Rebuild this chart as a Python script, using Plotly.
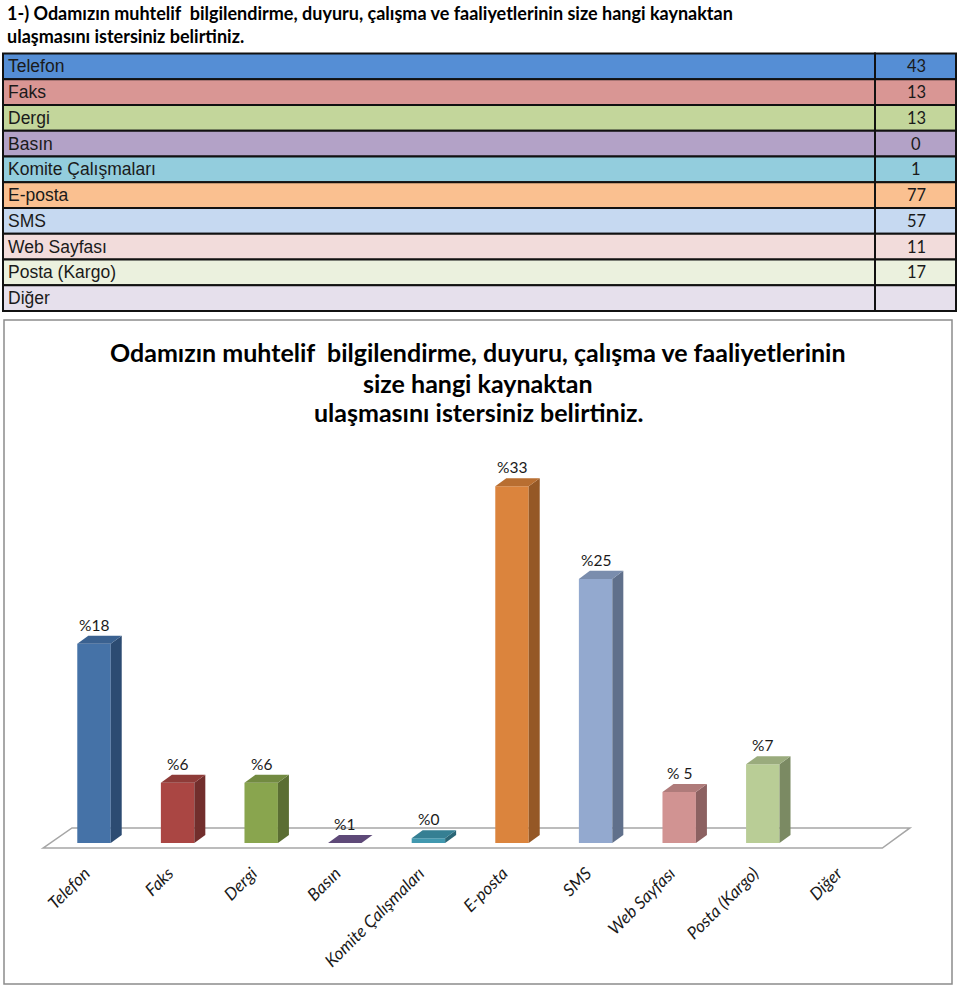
import plotly.graph_objects as go

W, H = 960, 986

# ---------------- data ----------------
categories = ["Telefon", "Faks", "Dergi", "Basın", "Komite Çalışmaları",
              "E-posta", "SMS", "Web Sayfası", "Posta (Kargo)", "Diğer"]
counts = [43, 13, 13, 0, 1, 77, 57, 11, 17, None]
pct_labels = ["%18", "%6", "%6", "%1", "%0", "%33", "%25", "% 5", "%7", ""]
chart_title_lines = ["Odamızın muhtelif  bilgilendirme, duyuru, çalışma ve faaliyetlerinin",
                     "size hangi kaynaktan",
                     "ulaşmasını istersiniz belirtiniz."]
page_title = ("1-) Odamızın muhtelif  bilgilendirme, duyuru, çalışma ve faaliyetlerinin size hangi kaynaktan<br>"
              "ulaşmasını istersiniz belirtiniz.")

# ---------------- styles ----------------
row_colors = ["#558ED5", "#D99694", "#C3D69B", "#B3A2C7", "#93CDDD",
              "#FAC090", "#C6D9F1", "#F2DCDB", "#EBF1DE", "#E6E0EC"]
front_colors = ["#4572A7", "#AA4643", "#89A54E", "#71588F", "#4198AF",
                "#DB843D", "#93A9CF", "#D19392", "#B9CD96", "#A47D7C"]
side_colors = ["#2C4B72", "#722E2C", "#5B6E33", "#4B3A60", "#2A6676",
               "#955826", "#60708B", "#8C6161", "#7B8A63", "#6E5352"]
top_colors = ["#3A6190", "#8E3B38", "#728A41", "#5E4978", "#357F93",
              "#B86E31", "#7A8DAD", "#AF7B7A", "#9AAB7D", "#896867"]

total = sum(c for c in counts if c is not None)
pct = [None if c is None else c / total * 100 for c in counts]

BAR_W = 0.4
DX = 0.1316   # depth offset in category units
DY = 0.75     # depth offset in % units

FONT_C = "Lato"

fig = go.Figure()

# bars: front faces
xs = list(range(len(categories)))
fig.add_trace(go.Bar(
    x=[x for x, p in zip(xs, pct) if p is not None],
    y=[p for p in pct if p is not None],
    width=BAR_W,
    marker=dict(color=[c for c, p in zip(front_colors, pct) if p is not None],
                line=dict(width=0)),
    hoverinfo="skip",
))

# 3D side and top faces computed from data
for i, p in enumerate(pct):
    if p is None:
        continue
    x0, x1 = i - BAR_W / 2, i + BAR_W / 2
    if p > 0:
        fig.add_trace(go.Scatter(
            x=[x1, x1 + DX, x1 + DX, x1, x1],
            y=[0, DY, p + DY, p, 0],
            mode="lines", fill="toself", fillcolor=side_colors[i],
            line=dict(width=0, color=side_colors[i]), hoverinfo="skip"))
    fig.add_trace(go.Scatter(
        x=[x0, x1, x1 + DX, x0 + DX, x0],
        y=[p, p, p + DY, p + DY, p],
        mode="lines", fill="toself", fillcolor=top_colors[i],
        line=dict(width=0, color=top_colors[i]), hoverinfo="skip"))
    if pct_labels[i]:
        fig.add_annotation(x=i, y=p + DY, xref="x", yref="y", text=pct_labels[i],
                           showarrow=False, yanchor="bottom", yshift=0,
                           font=dict(family=FONT_C, size=15.5, color="#1a1a1a"))

# floor
fig.add_shape(type="path", xref="x", yref="y", layer="below",
              path="M -0.61,-0.47 L -0.263,1.4 L 9.76,1.4 L 9.43,-0.47 Z",
              line=dict(color="#A6A6A6", width=1.5), fillcolor="white")

PX_PER_PCT = 10.75
BASE_PX = 843.0
Y_RANGE = [-1.5, 36]
y_lo_px = BASE_PX - Y_RANGE[0] * PX_PER_PCT
y_hi_px = BASE_PX - Y_RANGE[1] * PX_PER_PCT
x_dom = [10.4 / W, 930 / W]
fig.update_layout(
    width=W, height=H, margin=dict(l=0, r=0, t=0, b=0),
    paper_bgcolor="white", plot_bgcolor="rgba(0,0,0,0)",
    showlegend=False,
    xaxis=dict(domain=x_dom, range=[-1, 10], tickmode="array", tickvals=xs,
               ticktext=categories, tickangle=-45, showgrid=False, zeroline=False,
               showline=False, ticks="", ticklabelshift=-9,
               tickfont=dict(family=FONT_C, size=17, color="#1a1a1a", style="italic")),
    yaxis=dict(domain=[(H - y_lo_px) / H, (H - y_hi_px) / H], range=Y_RANGE,
               showgrid=False, zeroline=False, showticklabels=False, showline=False),
)

def px(x):
    return x / W

def py(y):
    return 1 - y / H

# chart border
fig.add_shape(type="rect", xref="paper", yref="paper", layer="below",
              x0=px(4), x1=px(952), y0=py(320), y1=py(984),
              line=dict(color="#8C8C8C", width=1.5))

# chart title
for line, yc in zip(chart_title_lines, (352, 383, 412)):
    fig.add_annotation(xref="paper", yref="paper", x=px(478), y=py(yc),
                       xanchor="center", yanchor="middle", showarrow=False,
                       text="<b>" + line + "</b>",
                       font=dict(family=FONT_C, size=25, color="#000000"))

# page title
fig.add_annotation(xref="paper", yref="paper", x=px(5), y=py(0),
                   xanchor="left", yanchor="top", showarrow=False, align="left",
                   text="<b>" + page_title + "</b>",
                   font=dict(family=FONT_C, size=18, color="#000000"))

# data table
T_TOP, ROW_H = 53.5, 25.75
T_L, T_MID, T_R = 3, 875, 956
for i, cat in enumerate(categories):
    y0 = T_TOP + i * ROW_H
    y1 = y0 + ROW_H
    for xa, xb in ((T_L, T_MID), (T_MID, T_R)):
        fig.add_shape(type="rect", xref="paper", yref="paper",
                      x0=px(xa), x1=px(xb), y0=py(y1), y1=py(y0),
                      fillcolor=row_colors[i], line=dict(color="#111111", width=2))
    fig.add_annotation(xref="paper", yref="paper", x=px(6), y=py((y0 + y1) / 2),
                       xanchor="left", yanchor="middle", showarrow=False, text=cat,
                       font=dict(family="Liberation Sans", size=17.5, color="#1a1a1a"))
    val = "" if counts[i] is None else str(counts[i])
    fig.add_annotation(xref="paper", yref="paper", x=px(916), y=py((y0 + y1) / 2),
                       xanchor="center", yanchor="middle", showarrow=False, text=val,
                       font=dict(family=FONT_C, size=16.5, color="#1a1a1a"))

fig.write_html("out.html", config={"displayModeBar": False},
               post_script="document.body.style.margin='0';document.documentElement.style.overflow='hidden';")
